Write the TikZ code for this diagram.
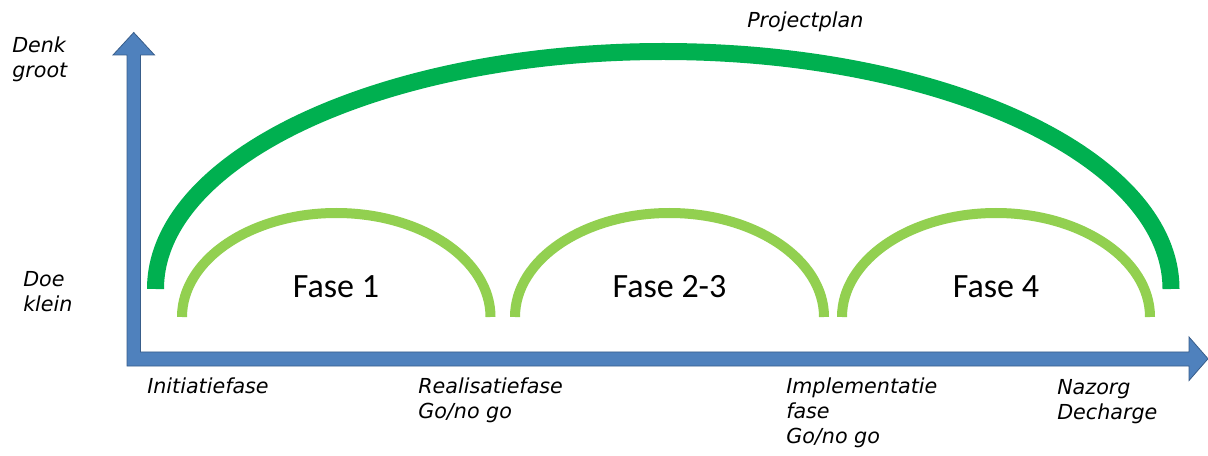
\documentclass[tikz,border=0pt]{standalone}
\usepackage{fontspec}
\setmainfont{DejaVu Sans}
\newfontfamily\fasefont{Carlito}
\definecolor{axisblue}{RGB}{79,129,189}
\definecolor{axisedge}{RGB}{56,93,138}
\definecolor{plangreen}{RGB}{0,176,80}
\definecolor{fasegreen}{RGB}{146,208,80}

\begin{document}
\begin{tikzpicture}[x=0.75pt,y=0.75pt,yscale=-1,xscale=1,
  axis shape/.style={fill=axisblue,draw=axisedge,line width=0.6pt},
  plan arc/.style={draw=plangreen,line width=12.75pt},
  fase arc/.style={draw=fasegreen,line width=7.5pt},
  side text/.style={anchor=base west,inner sep=0pt,align=left,font=\fontsize{15.5}{18.75}\selectfont\itshape},
  fase text/.style={anchor=base,inner sep=0pt,font=\fasefont\fontsize{25.5}{30}\selectfont}]
\useasboundingbox (0,0) rectangle (1208,456);

%Shape: Axis Arrows
\draw [axis shape] (127,366) -- (127,55) -- (113,55) -- (133.75,32.5) -- (154.5,55) -- (140.5,55) -- (140.5,352) -- (1189,352) -- (1189,337) -- (1208,358.75) -- (1189,380.5) -- (1189,366) -- cycle ;

%Shape: Arc Projectplan
\draw [plan arc] (155.5,289) arc [start angle=180, end angle=360, x radius=507.75, y radius=237.5] ;
%Shape: Arc Fase 1
\draw [fase arc] (182,317) arc [start angle=180, end angle=360, x radius=154.25, y radius=104] ;
%Shape: Arc Fase 2-3
\draw [fase arc] (515,317) arc [start angle=180, end angle=360, x radius=154.5, y radius=104] ;
%Shape: Arc Fase 4
\draw [fase arc] (842,317) arc [start angle=180, end angle=360, x radius=154, y radius=104] ;

% Text Node
\node [fase text] (fase1) at (336,297) {Fase 1};
% Text Node
\node [fase text] (fase23) at (669.5,297) {Fase 2-3};
% Text Node
\node [fase text] (fase4) at (996,297) {Fase 4};
% Text Node (multi-line nodes sit on their last line)
\node [side text] (denk) at (12,78) {Denk\\groot};
% Text Node
\node [side text] (doe) at (23,311) {Doe\\klein};
% Text Node
\node [side text] (plan) at (747,28) {Projectplan};
% Text Node
\node [side text] (init) at (147,393) {Initiatiefase};
% Text Node
\node [side text] (real) at (418,418) {Realisatiefase\\Go/no go};
% Text Node
\node [side text] (impl) at (786,443) {Implementatie\\fase\\Go/no go};
% Text Node
\node [side text] (nazorg) at (1057,419) {Nazorg\\Decharge};

\end{tikzpicture}
\end{document}
